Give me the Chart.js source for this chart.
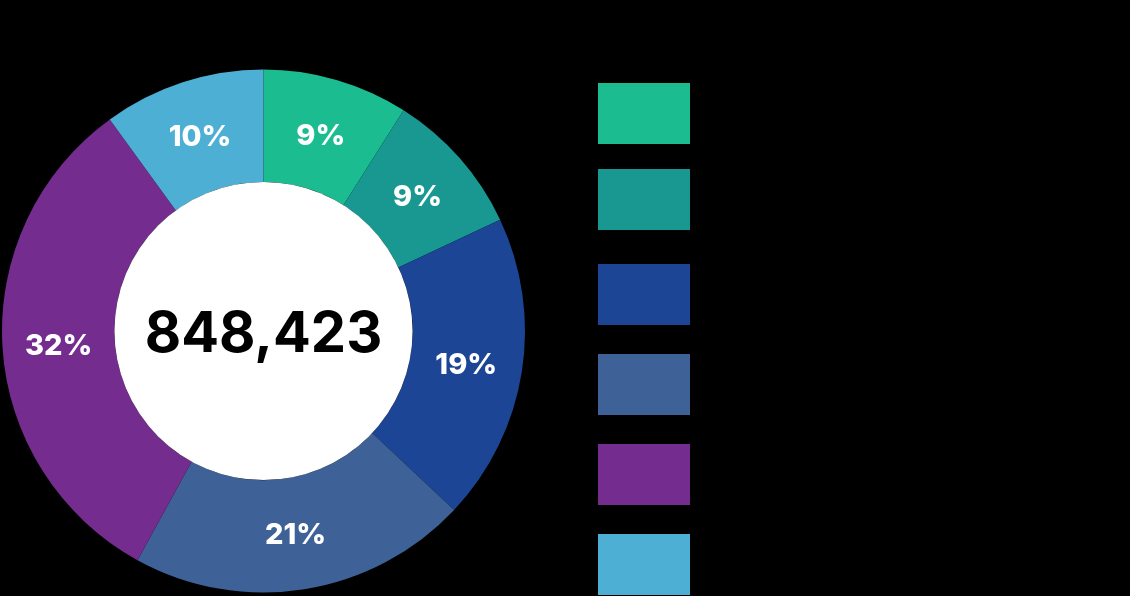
<!DOCTYPE html>
<html>
<head>
<meta charset="utf-8">
<script src="https://cdn.jsdelivr.net/npm/chart.js@4.4.1/dist/chart.umd.min.js"></script>
<style>
  html, body { margin: 0; padding: 0; background: #000; }
  #wrap { width: 1130px; height: 596px; position: relative; }
</style>
</head>
<body>
<div id="wrap"><canvas id="donut"></canvas></div>
<script>
const categories = ["Category 1", "Category 2", "Category 3", "Category 4", "Category 5", "Category 6"];
const shares = [9, 9, 19, 21, 32, 10];
const totalLabel = "848,423";
const colors = ["#1bbc90", "#199892", "#1c4596", "#3e6298", "#742c8f", "#4dafd3"];

// legend swatches (layout only)
const legendX = 598, legendW = 92, legendH = 61;
const legendTops = [83, 169, 264, 354, 444, 534];

const donutExtras = {
  id: "donutExtras",
  afterDatasetsDraw(chart) {
    const ctx = chart.ctx;
    const meta = chart.getDatasetMeta(0);
    const arc0 = meta.data[0];
    ctx.save();
    // white hole
    ctx.beginPath();
    ctx.arc(arc0.x, arc0.y, arc0.innerRadius, 0, Math.PI * 2);
    ctx.fillStyle = "#fff";
    ctx.fill();
    // total in the middle
    ctx.fillStyle = "#000";
    ctx.font = "700 56px Inter, 'Noto Sans', sans-serif";
    ctx.textAlign = "center";
    ctx.textBaseline = "middle";
    ctx.fillText(totalLabel, arc0.x, arc0.y + 4);
    // percent labels on the ring
    ctx.fillStyle = "#fff";
    ctx.font = "800 29px Inter, 'Noto Sans', sans-serif";
    meta.data.forEach((arc, i) => {
      const p = arc.tooltipPosition();
      ctx.fillText(shares[i] + "%", p.x, p.y + 2);
    });
    // legend
    ctx.textAlign = "left";
    ctx.font = "24px Inter, sans-serif";
    categories.forEach((c, i) => {
      ctx.fillStyle = colors[i];
      ctx.fillRect(legendX, legendTops[i], legendW, legendH);
      ctx.fillStyle = "#000";
      ctx.fillText(c, legendX + legendW + 20, legendTops[i] + legendH / 2);
    });
    ctx.restore();
  }
};

new Chart(document.getElementById("donut"), {
  type: "doughnut",
  data: {
    labels: categories,
    datasets: [{
      data: shares,
      backgroundColor: colors,
      borderWidth: 0,
      hoverOffset: 0
    }]
  },
  options: {
    responsive: true,
    maintainAspectRatio: false,
    animation: false,
    cutout: "57%",
    layout: { padding: { left: 2, top: 69, right: 605, bottom: 3 } },
    plugins: {
      legend: { display: false },
      tooltip: { enabled: false }
    }
  },
  plugins: [donutExtras]
});
</script>
</body>
</html>
